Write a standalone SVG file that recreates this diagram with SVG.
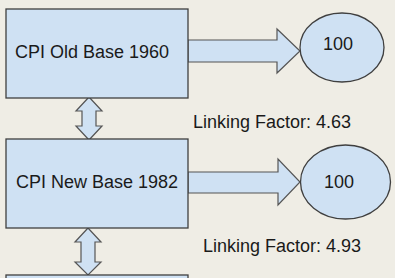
<svg xmlns="http://www.w3.org/2000/svg" width="395" height="278" viewBox="0 0 395 278">
<style>
.shape{fill:#cfe1f3;stroke:#3f3f3f;stroke-width:1.3}
.arrow{fill:#cfe1f3;stroke:#555555;stroke-width:1.2}
.label{font-family:"Liberation Sans",Arial,sans-serif;font-size:18px;fill:#1a1a1a}
</style>
<rect width="395" height="278" fill="#efede5"/>
<g id="connectors">
<polygon class="arrow" points="188,40 277,40 277,29 300,51 277,73 277,62 188,62"/>
<polygon class="arrow" points="188,172 278,172 278,159 300,182 278,205 278,193 188,193"/>
<polygon class="arrow" points="89,97 102,111 96,111 96,126 102,126 89,140 76,126 82,126 82,111 76,111"/>
<polygon class="arrow" points="88,228 101,242 95,242 95,262 101,262 88,275 75,262 81,262 81,242 75,242"/>
</g>
<g id="box1">
<rect class="shape" x="6" y="9" width="182" height="89"/>
<text class="label" x="92" y="58" text-anchor="middle">CPI Old Base 1960</text>
</g>
<g id="box2">
<rect class="shape" x="6" y="139" width="182" height="89"/>
<text class="label" x="97" y="188" text-anchor="middle">CPI New Base 1982</text>
</g>
<g id="box3">
<rect class="shape" x="6" y="275" width="182" height="10"/>
</g>
<g id="ellipse1">
<ellipse class="shape" cx="342" cy="47.5" rx="42" ry="34.5"/>
<text class="label" x="338" y="50" text-anchor="middle">100</text>
</g>
<g id="ellipse2">
<ellipse class="shape" cx="345.5" cy="182" rx="45" ry="37"/>
<text class="label" x="339" y="188" text-anchor="middle">100</text>
</g>
<g id="link1">
<text class="label" x="193" y="128">Linking Factor: 4.63</text>
</g>
<g id="link2">
<text class="label" x="203" y="252">Linking Factor: 4.93</text>
</g>
</svg>
